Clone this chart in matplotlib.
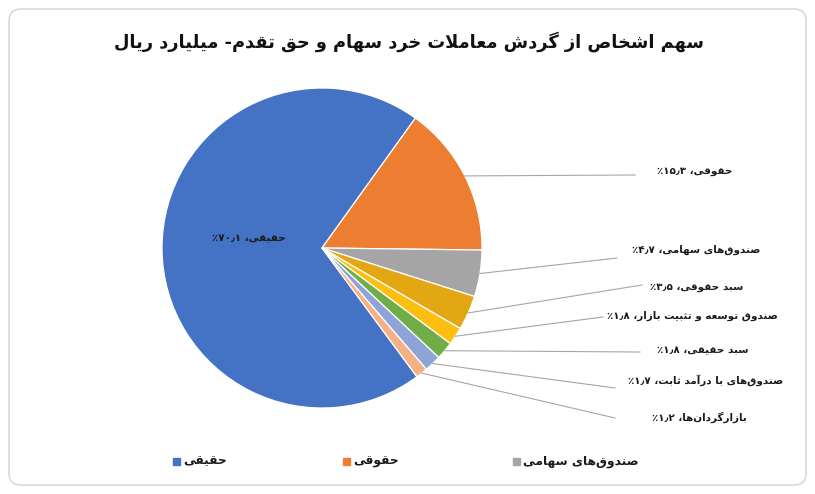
import re
import numpy as np
import matplotlib
matplotlib.use('Agg')
import matplotlib.pyplot as plt
from matplotlib.patches import FancyBboxPatch, Rectangle
from matplotlib.font_manager import findfont, FontProperties
from matplotlib.ft2font import FT2Font
import matplotlib.patheffects as pe

# ---- data ---------------------------------------------------------------
title = 'سهم اشخاص از گردش معاملات خرد سهام و حق تقدم- میلیارد ریال'
categories = ['حقیقی', 'حقوقی', 'صندوق‌های سهامی', 'سبد حقوقی',
              'صندوق توسعه و تثبیت بازار', 'سبد حقیقی',
              'صندوق‌های با درآمد ثابت', 'بازارگردان‌ها']
shares = [70.1, 15.3, 4.7, 3.5, 1.8, 1.8, 1.7, 1.2]
colors = ['#4472C4', '#ED7D31', '#A5A5A5', '#E2A713', '#FDBF0F',
          '#70AD47', '#8EA3D8', '#F4B183']
legend_n = 3   # the excel legend only shows the first three

# ---- minimal persian shaping (no arabic_reshaper in sandbox) ------------
FORMS = {
    'ا': ('\uFE8D', '\uFE8E', None, None), 'آ': ('\uFE81', '\uFE82', None, None),
    'ب': ('\uFE8F', '\uFE90', '\uFE91', '\uFE92'), 'پ': ('\uFB56', '\uFB57', '\uFB58', '\uFB59'),
    'ت': ('\uFE95', '\uFE96', '\uFE97', '\uFE98'), 'ث': ('\uFE99', '\uFE9A', '\uFE9B', '\uFE9C'),
    'ج': ('\uFE9D', '\uFE9E', '\uFE9F', '\uFEA0'), 'چ': ('\uFB7A', '\uFB7B', '\uFB7C', '\uFB7D'),
    'ح': ('\uFEA1', '\uFEA2', '\uFEA3', '\uFEA4'), 'خ': ('\uFEA5', '\uFEA6', '\uFEA7', '\uFEA8'),
    'د': ('\uFEA9', '\uFEAA', None, None), 'ذ': ('\uFEAB', '\uFEAC', None, None),
    'ر': ('\uFEAD', '\uFEAE', None, None), 'ز': ('\uFEAF', '\uFEB0', None, None),
    'ژ': ('\uFB8A', '\uFB8B', None, None),
    'س': ('\uFEB1', '\uFEB2', '\uFEB3', '\uFEB4'), 'ش': ('\uFEB5', '\uFEB6', '\uFEB7', '\uFEB8'),
    'ص': ('\uFEB9', '\uFEBA', '\uFEBB', '\uFEBC'), 'ض': ('\uFEBD', '\uFEBE', '\uFEBF', '\uFEC0'),
    'ط': ('\uFEC1', '\uFEC2', '\uFEC3', '\uFEC4'), 'ظ': ('\uFEC5', '\uFEC6', '\uFEC7', '\uFEC8'),
    'ع': ('\uFEC9', '\uFECA', '\uFECB', '\uFECC'), 'غ': ('\uFECD', '\uFECE', '\uFECF', '\uFED0'),
    'ف': ('\uFED1', '\uFED2', '\uFED3', '\uFED4'), 'ق': ('\uFED5', '\uFED6', '\uFED7', '\uFED8'),
    'ک': ('\uFB8E', '\uFB8F', '\uFB90', '\uFB91'), 'گ': ('\uFB92', '\uFB93', '\uFB94', '\uFB95'),
    'ل': ('\uFEDD', '\uFEDE', '\uFEDF', '\uFEE0'), 'م': ('\uFEE1', '\uFEE2', '\uFEE3', '\uFEE4'),
    'ن': ('\uFEE5', '\uFEE6', '\uFEE7', '\uFEE8'), 'و': ('\uFEED', '\uFEEE', None, None),
    'ه': ('\uFEE9', '\uFEEA', '\uFEEB', '\uFEEC'), 'ی': ('\uFBFC', '\uFBFD', '\uFBFE', '\uFBFF'),
}
LAM_ALEF = {'ا': ('\uFEFB', '\uFEFC'), 'آ': ('\uFEF5', '\uFEF6')}


def dual(c):
    return c in FORMS and FORMS[c][2] is not None


def fa(text):
    out = []
    i = 0
    while i < len(text):
        c = text[i]
        prev = text[i - 1] if i > 0 else ''
        nxt = text[i + 1] if i + 1 < len(text) else ''
        if c not in FORMS:
            if c != '\u200c':
                out.append(c)
            i += 1
            continue
        jp = dual(prev)
        if c == 'ل' and nxt in LAM_ALEF:
            out.append(LAM_ALEF[nxt][1 if jp else 0])
            i += 2
            continue
        jn = dual(c) and nxt in FORMS
        iso, fin, ini, med = FORMS[c]
        out.append(med if jp and jn else fin if jp else ini if jn else iso)
        i += 1
    s = ''.join(out)[::-1]
    # numbers stay left-to-right
    return re.sub('[\u06F0-\u06F9\u066B]+', lambda m: m.group(0)[::-1], s)


def fa_num(v):
    s = ('%.1f' % v).replace('.', '\u066B')
    return s.translate(str.maketrans('0123456789', '۰۱۲۳۴۵۶۷۸۹'))


# bold DejaVu may lack arabic glyphs -> fake it with a stroke
bold_ok = True
try:
    f = FT2Font(findfont(FontProperties(family='DejaVu Sans', weight='bold')))
    bold_ok = all(f.get_char_index(ord(c)) for c in '\uFEB3\uFBFE\uFB93\u06F1')
except Exception:
    bold_ok = False

plt.rcParams['font.family'] = ['DejaVu Sans']


def txt(ax, x, y, s, size, color='#1a1a1a', **kw):
    if bold_ok:
        return ax.text(x, y, s, fontsize=size, color=color, fontweight='bold', **kw)
    return ax.text(x, y, s, fontsize=size, color=color,
                   path_effects=[pe.withStroke(linewidth=0.7, foreground=color)], **kw)


# ---- figure (axes in pixel units) ---------------------------------------
W, H = 815, 494
fig = plt.figure(figsize=(W / 100, H / 100), dpi=100)
ax = fig.add_axes([0, 0, 1, 1])

cx, cy, r = 322, H - 248, 160
wedges, _ = ax.pie(shares, colors=colors, startangle=-53.6, counterclock=False,
                   center=(cx, cy), radius=r,
                   wedgeprops=dict(edgecolor='white', linewidth=0.9))
ax.set_xlim(0, W)
ax.set_ylim(0, H)
ax.set_aspect('equal')
ax.axis('off')

# outer rounded frame
ax.add_patch(FancyBboxPatch((9, 9), W - 18, H - 18, boxstyle='round,pad=0,rounding_size=12',
                            fc='none', ec='#D9D9D9', lw=1.2))

txt(ax, 409, H - 42, fa(title), 12.8, color='#111111', ha='center', va='center')

# inside label for the big slice
w0 = wedges[0]
mid = np.deg2rad((w0.theta1 + w0.theta2) / 2)
txt(ax, cx + 0.46 * r * np.cos(mid), cy + 0.46 * r * np.sin(mid) + 10,
    fa(categories[0] + '، ' + fa_num(shares[0]) + '٪'), 7.5, ha='center', va='center')

# outside labels with leader lines (text left x, text y, line end x, line end y)
lab_pos = [(657, 171, 635, 175), (632, 250, 617, 258), (650, 287, 642, 285),
           (607, 316, 603, 317), (657, 350, 640, 352), (628, 380, 615, 388),
           (652, 417, 615, 418)]
for w, cat, v, (tx, ty, lx, ly) in zip(wedges[1:], categories[1:], shares[1:], lab_pos):
    a = np.deg2rad((w.theta1 + w.theta2) / 2)
    ax.plot([cx + r * np.cos(a), lx], [cy + r * np.sin(a), H - ly], color='#A6A6A6', lw=0.8)
    txt(ax, tx, H - ty, fa(cat + '، ' + fa_num(v) + '٪'), 7.5, ha='left', va='center')

# legend, equal-width columns like excel
for i in range(legend_n):
    x0 = 173 + 170 * i
    ax.add_patch(Rectangle((x0, H - 465), 7, 7, color=colors[i]))
    txt(ax, x0 + 10, H - 461, fa(categories[i]), 8.8, ha='left', va='center')

fig.savefig('out.png', dpi=100)
